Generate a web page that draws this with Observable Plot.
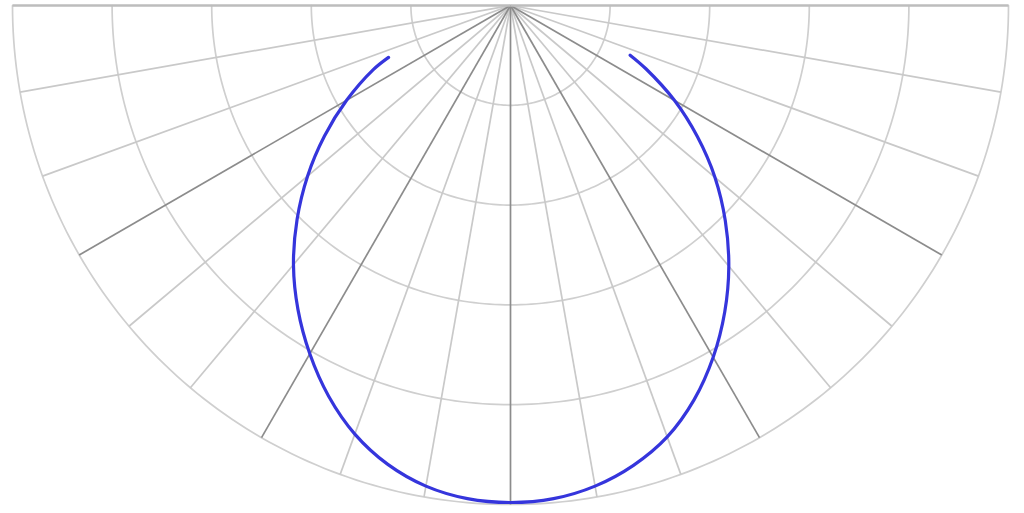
<!DOCTYPE html>
<html>
<head>
<meta charset="utf-8">
<script src="https://cdn.jsdelivr.net/npm/d3@7"></script>
<script src="https://cdn.jsdelivr.net/npm/@observablehq/plot@0.6"></script>
<style>
  html, body { margin: 0; padding: 0; background: #fff; }
  #chart svg { display: block; }
</style>
</head>
<body>
<div id="chart"></div>
<script>
// Polar intensity distribution (angle in degrees from nadir, value in same units as rings)
const ringValues = [100, 200, 300, 400, 500];
const spokeAngles = [-90, -80, -70, -60, -50, -40, -30, -20, -10, 0, 10, 20, 30, 40, 50, 60, 70, 80, 90];
const majorSpokes = [-90, -60, -30, 0, 30, 60, 90];

const curveAngles = [-67, -65, -60, -55, -50, -45, -40, -35, -30, -25, -20, -15, -10, -5, 0,
                     5, 10, 15, 20, 25, 30, 35, 40, 45, 50, 55, 60, 65, 67.5];
const curveValues = [133, 152, 190, 228, 266, 303, 339, 372, 403, 432, 457, 476, 489, 496, 498,
                     496, 489, 477, 460, 436, 407, 375, 341, 305, 268, 229, 190, 150, 130];

const rad = a => a * Math.PI / 180;
const toX = (a, r) => r * Math.sin(rad(a));
const toY = (a, r) => r * Math.cos(rad(a));

// ring arcs
const ringPts = [];
for (const r of ringValues) {
  for (let a = -90; a <= 90; a += 1) ringPts.push({ring: r, x: toX(a, r), y: toY(a, r)});
}
const spokes = spokeAngles.map(a => ({a, x2: toX(a, 500), y2: toY(a, 500), major: majorSpokes.includes(a)}));
const curve = curveAngles.map((a, i) => ({x: toX(a, curveValues[i]), y: toY(a, curveValues[i])}));

const chart = Plot.plot({
  width: 1024,
  height: 513,
  marginLeft: 12,
  marginRight: 16,
  marginTop: 5,
  marginBottom: 9,
  x: {domain: [-500, 500], axis: null},
  y: {domain: [500, 0], axis: null},
  marks: [
    Plot.line(ringPts, {x: "x", y: "y", z: "ring", stroke: "#cfcfcf", strokeWidth: 1.7}),
    Plot.link(spokes.filter(d => !d.major), {x1: 0, y1: 0, x2: "x2", y2: "y2", stroke: "#c9c9c9", strokeWidth: 1.7}),
    Plot.link(spokes.filter(d => d.major && Math.abs(d.a) !== 90), {x1: 0, y1: 0, x2: "x2", y2: "y2", stroke: "#8c8c8c", strokeWidth: 1.7}),
    Plot.link(spokes.filter(d => Math.abs(d.a) === 90), {x1: 0, y1: 0, x2: "x2", y2: "y2", stroke: "#bdbdbd", strokeWidth: 2.6}),
    Plot.line(curve, {x: "x", y: "y", curve: "catmull-rom", stroke: "#3535dc", strokeWidth: 3.2})
  ]
});
document.getElementById("chart").appendChild(chart);
</script>
</body>
</html>
